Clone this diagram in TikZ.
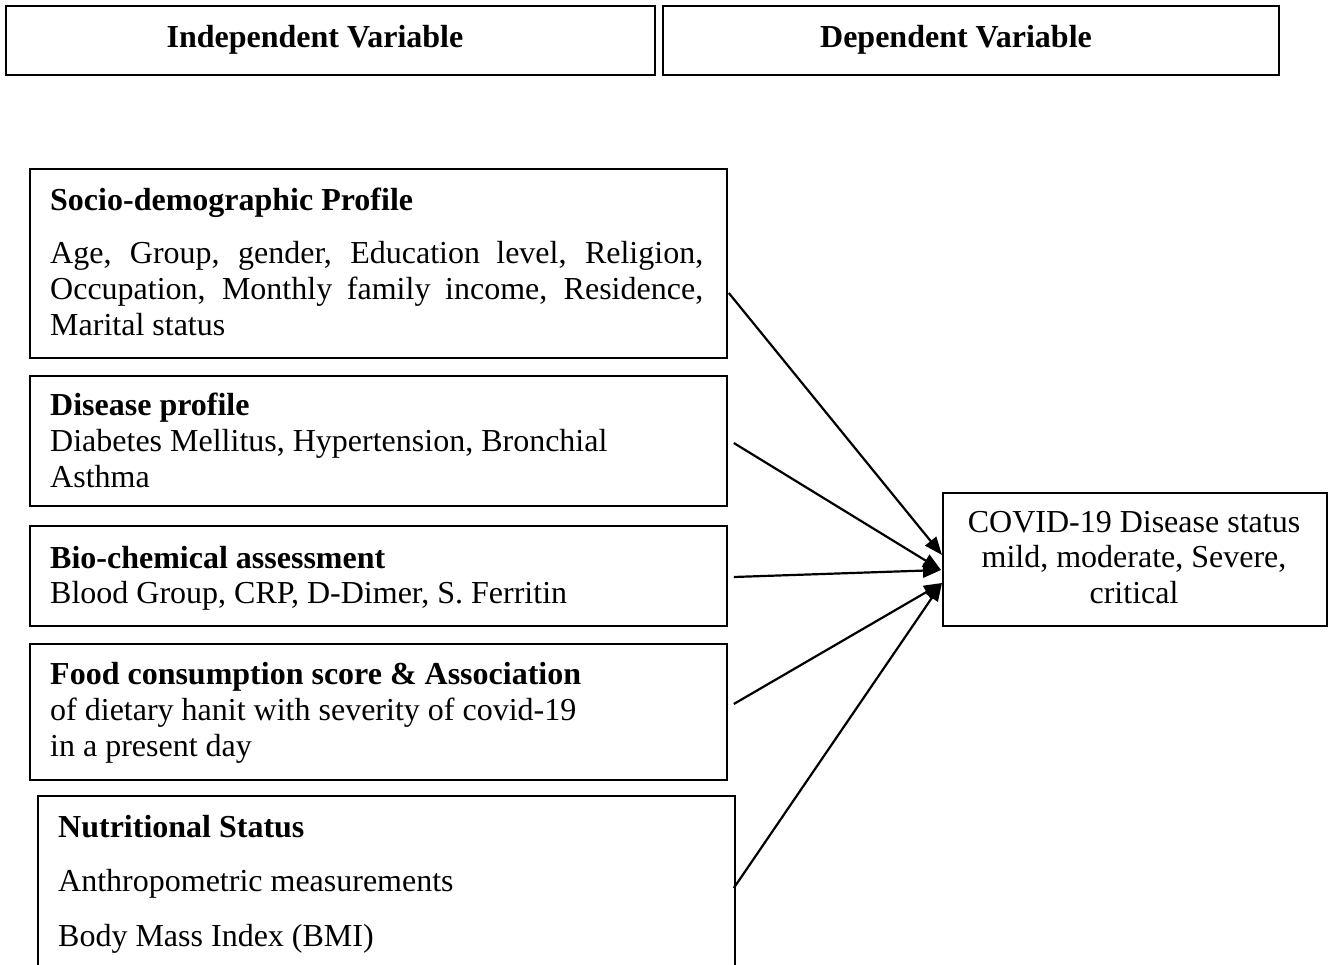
\documentclass[tikz,border=0pt]{standalone}
\usepackage{fontspec}
\setmainfont{Liberation Serif}
\usetikzlibrary{arrows.meta,calc}
\begin{document}
\begin{tikzpicture}[x=1pt,y=-1pt,
  box/.style={draw,line width=1.8pt,inner sep=0pt,anchor=north west},
  txt/.style={inner sep=0pt,anchor=base west,font=\fontsize{32}{36.8}\selectfont},
  ttl/.style={txt,font=\fontsize{32}{36.8}\selectfont\bfseries},
  ctxt/.style={inner sep=0pt,anchor=base,font=\fontsize{32}{36.8}\selectfont},
  cttl/.style={ctxt,font=\fontsize{32}{36.8}\selectfont\bfseries},
  link/.style={line width=2.2pt,-{Triangle[length=18pt,width=14pt]}}]
\useasboundingbox (0,0) rectangle (1336,965);

% header boxes
\node[box,minimum width=649pt,minimum height=69pt] (hind) at (5,5) {};
\node[box,minimum width=616pt,minimum height=69pt] (hdep) at (662,5) {};
\node[cttl] (hindt) at (315,48) {Independent Variable};
\node[cttl] (hdept) at (956,48) {Dependent Variable};

% socio-demographic
\node[box,minimum width=697pt,minimum height=189pt] (socio) at (29,168) {};
\node[ttl] (socio1) at (50,211) {Socio-demographic Profile};
\node[txt] (socio2) at (50,264) {\hbox to 653pt{Age, Group, gender, Education level, Religion,}};
\node[txt] (socio3) at (50,300) {\hbox to 653pt{Occupation, Monthly family income, Residence,}};
\node[txt] (socio4) at (50,336) {Marital status};

% disease
\node[box,minimum width=697pt,minimum height=130pt] (dis) at (29,375) {};
\node[ttl] (dis1) at (50,416) {Disease profile};
\node[txt] (dis2) at (50,451) {Diabetes Mellitus, Hypertension, Bronchial};
\node[txt] (dis3) at (50,487) {Asthma};

% bio-chemical
\node[box,minimum width=697pt,minimum height=100pt] (bio) at (29,525) {};
\node[ttl] (bio1) at (50,568) {Bio-chemical assessment};
\node[txt] (bio2) at (50,603) {Blood Group, CRP, D-Dimer, S. Ferritin};

% food
\node[box,minimum width=697pt,minimum height=136pt] (food) at (29,643) {};
\node[ttl] (food1) at (50,684) {Food consumption score \& Association};
\node[txt] (food2) at (50,720) {of dietary hanit with severity of covid-19};
\node[txt] (food3) at (50,756) {in a present day};

% nutritional (open at the bottom of the page)
\node[box,minimum width=697pt,minimum height=176pt] (nutr) at (37,795) {};
\node[ttl] (nutr1) at (58,837) {Nutritional Status};
\node[txt] (nutr2) at (58,891) {Anthropometric measurements};
\node[txt] (nutr3) at (58,946) {Body Mass Index (BMI)};

% dependent
\node[box,minimum width=384pt,minimum height=133pt] (covid) at (942,492) {};
\node[ctxt] (covid1) at (1134,532) {COVID-19 Disease status};
\node[ctxt] (covid2) at (1134,567) {mild, moderate, Severe,};
\node[ctxt] (covid3) at (1134,603) {critical};

% connector ends
\coordinate (a1s) at ($(socio.north east)+(1,125)$);
\coordinate (a2s) at ($(dis.north east)+(6,68)$);
\coordinate (a3s) at ($(bio.north east)+(6,52)$);
\coordinate (a4s) at ($(food.north east)+(6,61)$);
\coordinate (a5s) at ($(nutr.north east)+(-2,93)$);
\coordinate (t1) at ($(covid.north west)+(0,63)$);
\coordinate (t2) at ($(covid.north west)+(-1,78)$);
\coordinate (t3) at ($(covid.north west)+(0,91)$);

\draw[link] (a1s) -- (t1);
\draw[link] (a2s) -- (t2);
\draw[link] (a3s) -- (t2);
\draw[link] (a4s) -- (t3);
\draw[link] (a5s) -- (t3);
\end{tikzpicture}
\end{document}
